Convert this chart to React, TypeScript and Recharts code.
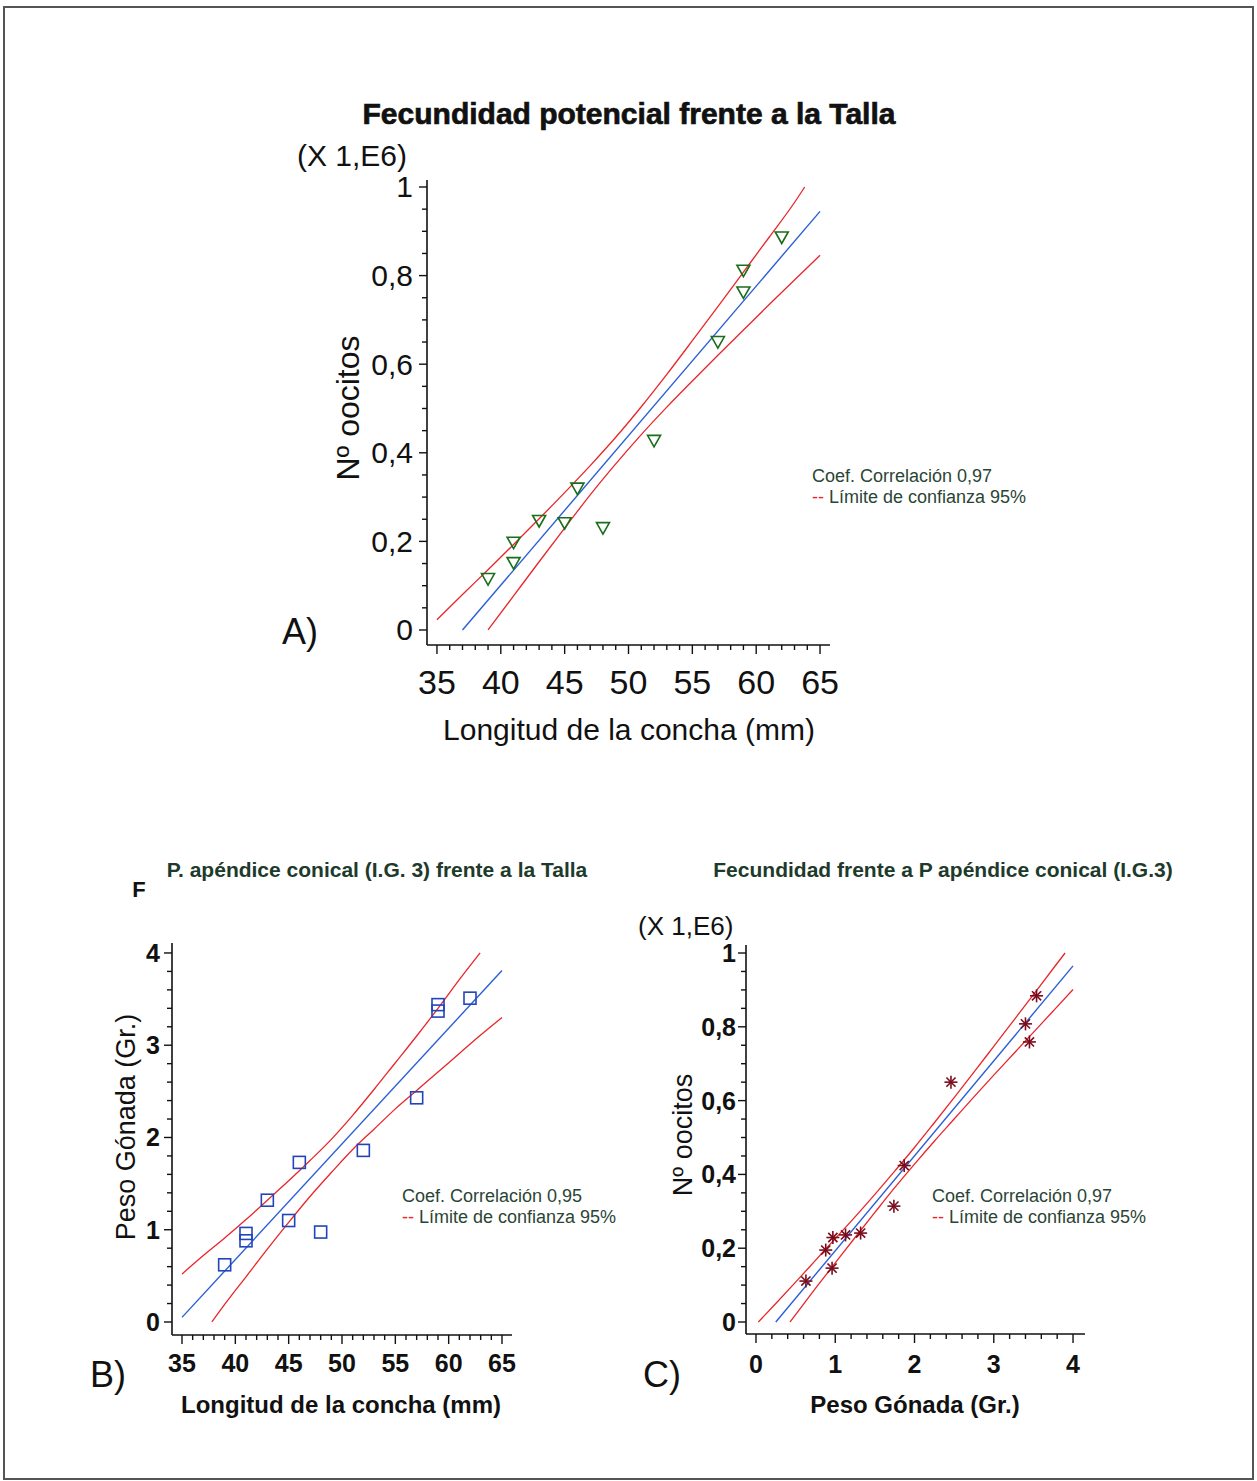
import { ScatterChart, Scatter, XAxis, YAxis } from 'recharts';

// A) fecundidad potencial vs talla
const aPtsX = [39, 41, 41, 43, 45, 46, 48, 52, 57, 59, 59, 62];
const aPtsY = [0.115, 0.197, 0.151, 0.246, 0.241, 0.319, 0.23, 0.427, 0.65, 0.811, 0.762, 0.886];
const aFitX = [37, 65];
const aFitY = [0, 0.945];
const aUpX = [35, 37, 39, 41, 43, 45, 47, 49, 51, 53, 55, 57, 59, 61, 63, 63.8];
const aUpY = [0.023, 0.08, 0.136, 0.193, 0.251, 0.31, 0.371, 0.435, 0.504, 0.577, 0.653, 0.73, 0.808, 0.886, 0.965, 1.0];
const aLoX = [39, 41, 43, 45, 47, 49, 51, 53, 55, 57, 59, 61, 63, 65];
const aLoY = [0, 0.077, 0.154, 0.23, 0.305, 0.375, 0.441, 0.503, 0.562, 0.62, 0.677, 0.734, 0.79, 0.846];

// B) peso apendice vs talla
const bPtsX = [39, 41, 41, 43, 45, 46, 48, 52, 57, 59, 59, 62];
const bPtsY = [0.62, 0.96, 0.88, 1.32, 1.1, 1.73, 0.975, 1.86, 2.43, 3.44, 3.37, 3.51];
const bFitX = [35, 65];
const bFitY = [0.05, 3.81];
const bUpX = [35, 37, 39, 41, 43, 45, 47, 49, 51, 53, 55, 57, 59, 61, 62.95];
const bUpY = [0.52, 0.72, 0.91, 1.11, 1.32, 1.53, 1.75, 1.98, 2.24, 2.52, 2.81, 3.1, 3.4, 3.71, 4.0];
const bLoX = [37.8, 39, 41, 43, 45, 47, 49, 51, 53, 55, 57, 59, 61, 63, 65];
const bLoY = [0, 0.19, 0.49, 0.79, 1.08, 1.36, 1.62, 1.87, 2.09, 2.31, 2.51, 2.71, 2.91, 3.11, 3.3];

// C) fecundidad vs peso apendice
const cPtsX = [0.63, 0.88, 0.97, 0.96, 1.13, 1.32, 1.74, 1.87, 2.46, 3.4, 3.45, 3.54];
const cPtsY = [0.111, 0.195, 0.229, 0.146, 0.236, 0.241, 0.314, 0.424, 0.65, 0.808, 0.759, 0.884];
const cFitX = [0.25, 4.0];
const cFitY = [0, 0.965];
const cUpX = [0.03, 0.25, 0.5, 0.75, 1, 1.25, 1.5, 1.75, 2, 2.25, 2.5, 2.75, 3, 3.25, 3.5, 3.75, 3.9];
const cUpY = [0, 0.05, 0.108, 0.167, 0.226, 0.285, 0.346, 0.409, 0.473, 0.54, 0.608, 0.677, 0.747, 0.817, 0.887, 0.958, 1.0];
const cLoX = [0.43, 0.5, 0.75, 1, 1.25, 1.5, 1.75, 2, 2.25, 2.5, 2.75, 3, 3.25, 3.5, 3.75, 4];
const cLoY = [0, 0.02, 0.091, 0.16, 0.229, 0.297, 0.364, 0.428, 0.49, 0.55, 0.61, 0.669, 0.727, 0.785, 0.843, 0.901];

const FONT = '"Liberation Sans", Arial, Helvetica, sans-serif';
const RED = '#e8262b';
const BLUE = '#2a5fd6';
const TXT = '#2a4535';
const AXW = 60; // room reserved by each axis

type P = { x: number; y: number };
const zip = (xs: number[], ys: number[]): P[] => xs.map((x, i) => ({ x, y: ys[i] }));

const makeTicks = (lo: number, hi: number, step: number) => {
  const out: number[] = [];
  const n = Math.round((hi - lo) / step);
  for (let i = 0; i <= n; i++) out.push(Math.round((lo + i * step) * 1000) / 1000);
  return out;
};
const isMajor = (v: number, step: number) => Math.abs(v / step - Math.round(v / step)) < 1e-6;
const fmt = (v: number) => String(Math.round(v * 100) / 100).replace('.', ',');

const Triangle = (p: any) => (
  <polygon
    points={`${p.cx - 6.5},${p.cy - 5.5} ${p.cx + 6.5},${p.cy - 5.5} ${p.cx},${p.cy + 6}`}
    fill="none" stroke="#1a6e1a" strokeWidth={1.6}
  />
);
const Square = (p: any) => (
  <rect x={p.cx - 6} y={p.cy - 6} width={12} height={12} fill="none" stroke="#2244bb" strokeWidth={1.6} />
);
const Star = (p: any) => {
  const r = 6.5, d = 4.6;
  return (
    <g stroke="#7a0c1c" strokeWidth={1.6}>
      <line x1={p.cx - r} y1={p.cy} x2={p.cx + r} y2={p.cy} />
      <line x1={p.cx} y1={p.cy - r} x2={p.cx} y2={p.cy + r} />
      <line x1={p.cx - d} y1={p.cy - d} x2={p.cx + d} y2={p.cy + d} />
      <line x1={p.cx - d} y1={p.cy + d} x2={p.cx + d} y2={p.cy - d} />
    </g>
  );
};
const NoDot = () => <g />;

type PanelProps = {
  box: { left: number; top: number; width: number; height: number };
  plot: { left: number; top: number; right: number; bottom: number };
  xDomain: [number, number];
  yDomain: [number, number];
  xTicks: number[];
  yTicks: number[];
  xMajor: number;
  yMajor: number;
  xFont: any;
  yFont: any;
  xLabelDy: number;
  yLabelDx: number;
  pts: P[];
  fit: P[];
  up: P[];
  lo: P[];
  shape: any;
};

const Panel = (pp: PanelProps) => {
  const { box, plot } = pp;
  const margin = {
    left: plot.left - box.left - AXW,
    top: plot.top - box.top,
    right: box.left + box.width - plot.right,
    bottom: box.top + box.height - plot.bottom - AXW,
  };
  const xTick = (props: any) => {
    const { x, y, payload } = props;
    const major = isMajor(payload.value, pp.xMajor);
    return (
      <g>
        <line x1={x} y1={y} x2={x} y2={y + (major ? 9 : 5)} stroke="#111" strokeWidth={1.4} />
        {major && (
          <text x={x} y={y + pp.xLabelDy} textAnchor="middle" dominantBaseline="central" fill="#111" style={pp.xFont}>
            {fmt(payload.value)}
          </text>
        )}
      </g>
    );
  };
  const yTick = (props: any) => {
    const { x, y, payload } = props;
    const major = isMajor(payload.value, pp.yMajor);
    return (
      <g>
        <line x1={x - (major ? 8 : 5)} y1={y} x2={x} y2={y} stroke="#111" strokeWidth={1.4} />
        {major && (
          <text x={x - pp.yLabelDx} y={y} textAnchor="end" dominantBaseline="central" fill="#111" style={pp.yFont}>
            {fmt(payload.value)}
          </text>
        )}
      </g>
    );
  };
  return (
    <div style={{ position: 'absolute', left: box.left, top: box.top }}>
      <ScatterChart width={box.width} height={box.height} margin={margin}>
        <XAxis
          type="number" dataKey="x" domain={pp.xDomain} ticks={pp.xTicks} interval={0}
          allowDataOverflow height={AXW} tickSize={0} tickMargin={0} tickLine={false}
          axisLine={{ stroke: '#111', strokeWidth: 1.6 }} tick={xTick}
        />
        <YAxis
          type="number" dataKey="y" domain={pp.yDomain} ticks={pp.yTicks} interval={0}
          allowDataOverflow width={AXW} tickSize={0} tickMargin={0} tickLine={false}
          axisLine={{ stroke: '#111', strokeWidth: 1.6 }} tick={yTick}
        />
        <Scatter data={pp.up} line={{ stroke: RED, strokeWidth: 1.3 }} lineJointType="monotoneX" shape={NoDot} isAnimationActive={false} />
        <Scatter data={pp.lo} line={{ stroke: RED, strokeWidth: 1.3 }} lineJointType="monotoneX" shape={NoDot} isAnimationActive={false} />
        <Scatter data={pp.fit} line={{ stroke: BLUE, strokeWidth: 1.4 }} shape={NoDot} isAnimationActive={false} />
        <Scatter data={pp.pts} shape={pp.shape} isAnimationActive={false} />
      </ScatterChart>
    </div>
  );
};

const T = (p: { x: number; y: number; size: number; bold?: boolean; heavy?: boolean; color?: string; rot?: boolean; left?: boolean; children: any }) => (
  <div
    style={{
      position: 'absolute', left: p.x, top: p.y, whiteSpace: 'nowrap', fontFamily: FONT,
      fontSize: p.size, fontWeight: p.bold ? 700 : 400, color: p.color || '#111', lineHeight: 1,
      WebkitTextStroke: p.heavy ? '0.7px #111' : undefined,
      transform: p.left ? 'translate(0,-50%)' : `translate(-50%,-50%)${p.rot ? ' rotate(-90deg)' : ''}`,
    }}
  >
    {p.children}
  </div>
);

const Legend = ({ x, y, r }: { x: number; y: number; r: string }) => (
  <div style={{ position: 'absolute', left: x, top: y - 10, fontFamily: FONT, fontSize: 18, lineHeight: '21px', color: TXT, whiteSpace: 'nowrap' }}>
    <div>Coef. Correlación {r}</div>
    <div><span style={{ color: RED }}>--</span> Límite de confianza 95%</div>
  </div>
);

export default function App() {
  const bigTick = { fontFamily: FONT, fontSize: 34 };
  const midTick = { fontFamily: FONT, fontSize: 30 };
  const boldTick = { fontFamily: FONT, fontSize: 25, fontWeight: 700 };
  return (
    <div style={{ position: 'absolute', left: 0, top: 0, width: 1257, height: 1481, background: '#fff', overflow: 'hidden' }}>
      <div style={{ position: 'absolute', left: 3, top: 6, width: 1247, height: 1470, border: '2px solid #555' }} />

      <Panel
        box={{ left: 250, top: 150, width: 650, height: 620 }}
        plot={{ left: 427, top: 180, right: 830, bottom: 645 }}
        xDomain={[34.22, 65.78]} yDomain={[-0.0339, 1.0158]}
        xTicks={makeTicks(35, 65, 1)} yTicks={makeTicks(0, 1, 0.05)}
        xMajor={5} yMajor={0.2} xFont={bigTick} yFont={midTick} xLabelDy={37} yLabelDx={14}
        pts={zip(aPtsX, aPtsY)} fit={zip(aFitX, aFitY)} up={zip(aUpX, aUpY)} lo={zip(aLoX, aLoY)}
        shape={Triangle}
      />
      <Panel
        box={{ left: 40, top: 900, width: 490, height: 540 }}
        plot={{ left: 172, top: 943, right: 512, bottom: 1335 }}
        xDomain={[34.0625, 65.9375]} yDomain={[-0.141, 4.108]}
        xTicks={makeTicks(35, 65, 1)} yTicks={makeTicks(0, 4, 0.2)}
        xMajor={5} yMajor={1} xFont={boldTick} yFont={boldTick} xLabelDy={28} yLabelDx={12}
        pts={zip(bPtsX, bPtsY)} fit={zip(bFitX, bFitY)} up={zip(bUpX, bUpY)} lo={zip(bLoX, bLoY)}
        shape={Square}
      />
      <Panel
        box={{ left: 600, top: 900, width: 510, height: 540 }}
        plot={{ left: 746, top: 945, right: 1085, bottom: 1334 }}
        xDomain={[-0.126, 4.151]} yDomain={[-0.0325, 1.0217]}
        xTicks={makeTicks(0, 4, 0.2)} yTicks={makeTicks(0, 1, 0.05)}
        xMajor={1} yMajor={0.2} xFont={boldTick} yFont={boldTick} xLabelDy={30} yLabelDx={10}
        pts={zip(cPtsX, cPtsY)} fit={zip(cFitX, cFitY)} up={zip(cUpX, cUpY)} lo={zip(cLoX, cLoY)}
        shape={Star}
      />

      {/* panel A text */}
      <T x={629} y={114} size={30} bold heavy>Fecundidad potencial frente a la Talla</T>
      <T x={297} y={156} size={30} left>(X 1,E6)</T>
      <T x={348} y={408} size={32} rot>Nº oocitos</T>
      <T x={629} y={730} size={30}>Longitud de la concha (mm)</T>
      <T x={300} y={632} size={36}>A)</T>
      <Legend x={812} y={476} r="0,97" />

      {/* panel B text */}
      <T x={377} y={869} size={21} bold color="#1d3a2b">P. apéndice conical (I.G. 3) frente a la Talla</T>
      <T x={139} y={890} size={22} bold>F</T>
      <T x={126} y={1127} size={27} rot>Peso Gónada (Gr.)</T>
      <T x={341} y={1405} size={24} bold>Longitud de la concha (mm)</T>
      <T x={108} y={1375} size={36}>B)</T>
      <Legend x={402} y={1196} r="0,95" />

      {/* panel C text */}
      <T x={943} y={869} size={21} bold color="#1d3a2b">Fecundidad frente a P apéndice conical (I.G.3)</T>
      <T x={638} y={926} size={26} left>(X 1,E6)</T>
      <T x={683} y={1135} size={27} rot>Nº oocitos</T>
      <T x={915} y={1405} size={24} bold>Peso Gónada (Gr.)</T>
      <T x={662} y={1375} size={36}>C)</T>
      <Legend x={932} y={1196} r="0,97" />
    </div>
  );
}
